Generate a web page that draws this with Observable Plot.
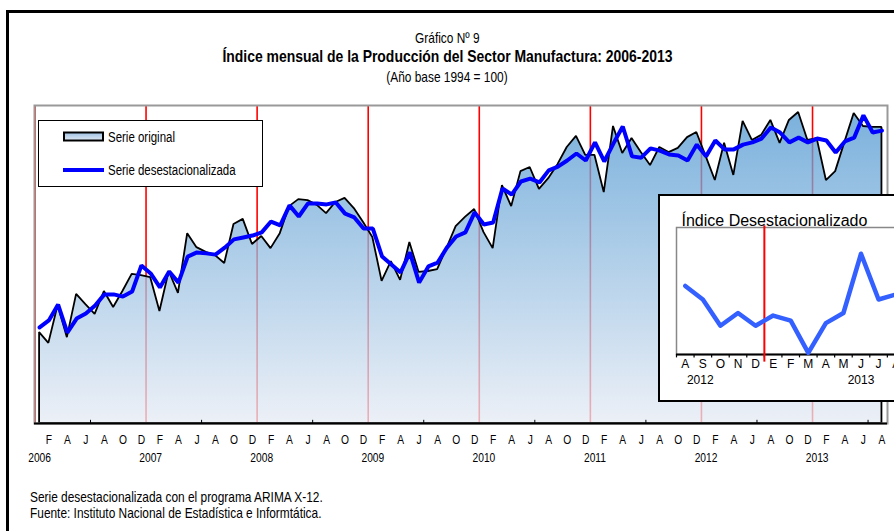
<!DOCTYPE html>
<html>
<head>
<meta charset="utf-8">
<script src="https://cdn.jsdelivr.net/npm/d3@7"></script>
<script src="https://cdn.jsdelivr.net/npm/@observablehq/plot@0.6"></script>
<style>
  body { margin: 0; background: #fff; overflow: hidden; }
  #wrap { position: relative; width: 894px; height: 531px; overflow: hidden; background: #fff;
          font-family: "Liberation Sans", Arial, sans-serif; color: #000; }
  #outer { position: absolute; left: 6px; top: 10px; width: 1000px; height: 1000px;
           border-left: 3px solid #000; border-top: 3px solid #000; }
  .t { position: absolute; left: 0; width: 894px; text-align: center; white-space: nowrap; line-height: 1; }
  .n { display: inline-block; transform: scaleX(0.82); transform-origin: 50% 50%; }
  .foot { position: absolute; left: 30px; white-space: nowrap; line-height: 1; font-size: 14.5px; }
  .foot .n { transform-origin: 0 50%; }
  #main { position: absolute; left: 0; top: 0; }
  #legend { position: absolute; left: 38px; top: 120px; }
  #inset { position: absolute; left: 658px; top: 194px; width: 290px; height: 208px; box-sizing: border-box;
           border: 2px solid #000; background: #fff; overflow: hidden; }
</style>
</head>
<body>
<div id="wrap">
  <div id="outer"></div>
  <div id="main"></div>
  <div class="t" style="top:31px;font-size:14.5px;"><span class="n">Gráfico Nº 9</span></div>
  <div class="t" style="top:48px;font-size:17px;font-weight:bold;"><span class="n">Índice mensual de la Producción del Sector Manufactura: 2006-2013</span></div>
  <div class="t" style="top:70px;font-size:14.5px;"><span class="n">(Año base 1994 = 100)</span></div>
  <div id="legend"></div>
  <div id="inset"></div>
  <div class="foot" style="top:490px;"><span class="n">Serie desestacionalizada con el programa ARIMA X-12.</span></div>
  <div class="foot" style="top:506px;"><span class="n">Fuente: Instituto Nacional de Estadística e Informtática.</span></div>
</div>
<script>
// ---------------- DATA ----------------
const years = ["2006", "2007", "2008", "2009", "2010", "2011", "2012", "2013"];
const axisMonthLetters = ["F", "A", "J", "A", "O", "D"]; // Feb, Apr, Jun, Aug, Oct, Dec
// Serie original, Jan 2006 .. Aug 2013
const original = [
  128.6, 125.2, 137.1, 127.0, 140.6, 137.4, 134.3, 141.5, 136.5, 141.5, 146.9, 146.5,
  145.9, 135.2, 147.8, 140.9, 159.7, 155.3, 153.8, 152.8, 150.3, 162.6, 164.2, 156.3,
  158.8, 155.0, 159.7, 168.2, 170.4, 170.1, 168.6, 166.0, 169.5, 170.8, 167.6, 163.2,
  158.5, 144.7, 150.9, 145.0, 156.9, 147.5, 147.8, 148.4, 155.0, 161.9, 164.8, 167.3,
  160.1, 155.0, 174.8, 168.2, 179.2, 180.5, 173.6, 177.0, 181.4, 186.8, 190.3, 184.3,
  184.3, 172.6, 193.4, 184.9, 189.6, 185.2, 181.1, 186.8, 185.2, 186.5, 189.9, 191.5,
  184.0, 176.4, 188.1, 178.0, 195.0, 189.0, 190.6, 195.3, 188.1, 195.3, 197.8, 189.0,
  189.6, 176.4, 179.2, 188.4, 197.5, 193.4, 193.1, 193.1
];
// Serie desestacionalizada, Jan 2006 .. Aug 2013
const deseason = [
  130.2, 132.4, 137.4, 128.6, 133.0, 134.6, 137.1, 140.6, 140.6, 139.9, 141.5, 149.7,
  147.2, 142.8, 147.8, 144.3, 152.5, 153.8, 153.5, 153.1, 155.3, 157.9, 158.5, 159.1,
  160.1, 163.5, 162.3, 168.6, 165.1, 169.2, 169.2, 168.9, 169.5, 166.0, 164.8, 161.3,
  161.3, 152.5, 150.0, 147.5, 153.8, 144.3, 149.4, 150.6, 155.3, 158.8, 160.1, 166.4,
  162.6, 163.2, 173.9, 172.0, 176.1, 177.0, 175.8, 179.6, 180.8, 182.7, 184.9, 182.7,
  188.4, 182.4, 188.1, 193.4, 184.0, 183.6, 186.5, 185.8, 184.6, 184.3, 182.7, 187.7,
  184.0, 189.0, 186.2, 186.2, 187.7, 188.4, 189.6, 193.1, 191.5, 188.4, 189.9, 188.4,
  189.6, 189.0, 185.2, 188.7, 189.9, 196.9, 191.5, 192.1
];
// Inset: Aug 2012 .. Aug 2013
const insetMonthLetters = ["A", "S", "O", "N", "D", "E", "F", "M", "A", "M", "J", "J", "A"];
const insetYears = ["2012", "2013"];
const insetTitle = "Índice Desestacionalizado";
const legendLabels = ["Serie original", "Serie desestacionalizada"];

// ---------------- BUILD ----------------
const REGULAR = '"Liberation Sans", Arial, sans-serif';
const NARROW_F = 0.82;
function narrowTexts(root) {
  d3.select(root).selectAll("text").each(function() {
    const el = d3.select(this);
    const x = +el.attr("x") || 0, y = +el.attr("y") || 0;
    const t = el.attr("transform") || "";
    el.attr("x", null).attr("y", null)
      .attr("transform", `${t} translate(${x},${y}) scale(${NARROW_F},1)`);
  });
}

const n = original.length;
const rows = original.map((v, i) => ({i, v, s: deseason[i]}));
const boundaries = years.map((y, k) => 12 * k - 0.5);
const midYears = years.map((y, k) => 12 * k + 5.5).filter(x => x < n);
const monthTicks = [];
years.forEach((y, k) => axisMonthLetters.forEach((L, j) => {
  const i = 12 * k + 2 * j + 1;
  if (i < n) monthTicks.push({i, L});
}));
const yearTicks = years.map((y, k) => ({i: 12 * k, y}));

const main = Plot.plot({
  width: 894, height: 531,
  marginTop: 105, marginBottom: 108, marginLeft: 34, marginRight: 7,
  x: {domain: [-0.55, 91.6], axis: null},
  y: {domain: [100, 200], axis: null},
  style: {background: "transparent", fontFamily: REGULAR, fontSize: "12.5px", overflow: "visible", color: "#000"},
  marks: [
    Plot.ruleX(boundaries, {x: d => d, stroke: "#ff0000", strokeWidth: 1.6}),
    Plot.areaY(rows, {x: "i", y1: 100, y2: "v", fill: "url(#areaGrad)", fillOpacity: 0.75,
                      stroke: "#000", strokeWidth: 1.8, strokeLinejoin: "miter"}),
    Plot.line(rows, {x: "i", y: "s", stroke: "#0000ff", strokeWidth: 4, strokeLinejoin: "miter"}),
    Plot.frame({stroke: "#999", strokeWidth: 2}),
    Plot.ruleY([100], {stroke: "#000", strokeWidth: 2}),
    Plot.ruleX(midYears, {x: d => d, y1: 100, y2: 101, stroke: "#000", strokeWidth: 1}),
    Plot.text(monthTicks, {x: "i", text: "L", frameAnchor: "bottom", dy: 20, fill: "#000"}),
    Plot.text(yearTicks, {x: "i", text: "y", frameAnchor: "bottom", dy: 38, fill: "#000"})
  ]
});
{
  const ys = main.scale("y");
  const defs = d3.select(main).insert("defs", ":first-child");
  const g = defs.append("linearGradient").attr("id", "areaGrad")
    .attr("gradientUnits", "userSpaceOnUse")
    .attr("x1", 0).attr("x2", 0)
    .attr("y1", ys.apply(200)).attr("y2", ys.apply(100));
  g.append("stop").attr("offset", "0").attr("stop-color", "#4b95d0");
  g.append("stop").attr("offset", "1").attr("stop-color", "#e6ebf4");
}
narrowTexts(main);
document.getElementById("main").appendChild(main);

// Legend
{
  const svg = d3.create("svg").attr("width", 226).attr("height", 68);
  const defs = svg.append("defs");
  const lg = defs.append("linearGradient").attr("id", "legGrad").attr("x1", 0).attr("x2", 0).attr("y1", 0).attr("y2", 1);
  lg.append("stop").attr("offset", "0").attr("stop-color", "#9fc1e3");
  lg.append("stop").attr("offset", "1").attr("stop-color", "#e0e9f4");
  svg.append("rect").attr("x", 0.5).attr("y", 0.5).attr("width", 224).attr("height", 66)
    .attr("fill", "#fff").attr("stroke", "#000").attr("stroke-width", 1);
  svg.append("rect").attr("x", 26).attr("y", 12.5).attr("width", 39).attr("height", 8)
    .attr("fill", "url(#legGrad)").attr("stroke", "#000").attr("stroke-width", 2);
  svg.append("line").attr("x1", 25).attr("x2", 66).attr("y1", 50).attr("y2", 50)
    .attr("stroke", "#0000ff").attr("stroke-width", 4);
  svg.selectAll("text.l").data(legendLabels).join("text")
    .attr("x", 70).attr("y", (d, i) => i === 0 ? 17 : 50)
    .attr("dy", "0.35em")
    .style("font-family", REGULAR).style("font-size", "14px")
    .text(d => d);
  narrowTexts(svg.node());
  document.getElementById("legend").appendChild(svg.node());
}

// Inset
{
  const insetStart = n - insetMonthLetters.length;          // Aug 2012
  const yearStartK = 12 * (years.length - 1) - insetStart;  // Jan 2013 position in the inset
  const insetVals = deseason.slice(insetStart).map((v, k) => ({k, v, L: insetMonthLetters[k]}));
  const inset = Plot.plot({
    width: 262, height: 204,
    marginLeft: 16, marginTop: 31, marginBottom: 46, marginRight: 0,
    x: {domain: [-0.5, 13.5], axis: null},
    y: {domain: [185, 200], axis: null},
    style: {background: "transparent", fontFamily: REGULAR, fontSize: "12px", overflow: "visible", color: "#000"},
    marks: [
      Plot.frame({stroke: "#888", strokeWidth: 1.5}),
      Plot.ruleY([185], {stroke: "#000", strokeWidth: 2}),
      Plot.ruleX(d3.range(insetVals.length + 1).map(k => k - 0.5), {x: d => d, y1: 185, y2: 184.6, stroke: "#000", strokeWidth: 1.2}),
      Plot.ruleX([yearStartK - 0.5], {x: d => d, y1: 184.1, y2: 200.2, stroke: "#ff0000", strokeWidth: 2}),
      Plot.line(insetVals, {x: "k", y: "v", stroke: "#3360ff", strokeWidth: 4.5}),
      Plot.text(insetVals, {x: "k", text: "L", frameAnchor: "bottom", dy: 13, fill: "#000"}),
      Plot.text([insetYears[0]], {x: 0, text: d => d, dx: 15, frameAnchor: "bottom", dy: 29, fill: "#000"}),
      Plot.text([insetYears[1]], {x: yearStartK + 5, text: d => d, frameAnchor: "bottom", dy: 29, fill: "#000"}),
      Plot.text([insetTitle], {text: d => d, frameAnchor: "top-left", dx: 5, dy: -2, lineAnchor: "bottom",
                               textAnchor: "start", fontSize: 16, fill: "#000"})
    ]
  });
  document.getElementById("inset").appendChild(inset);
}
</script>
</body>
</html>
